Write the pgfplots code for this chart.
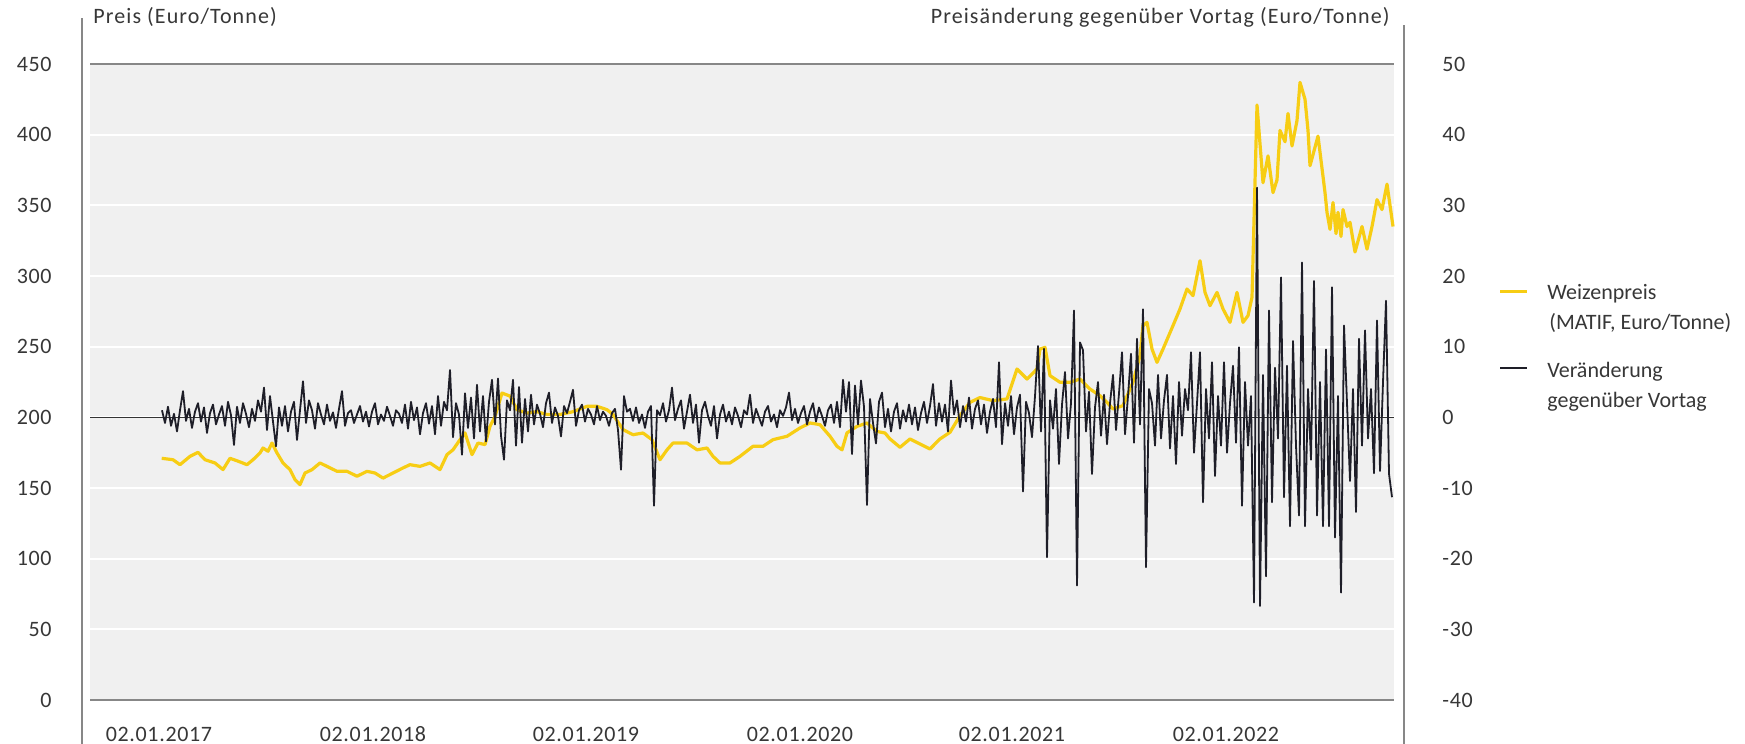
\documentclass[border=0pt]{standalone}
\usepackage{pgfplots}
\usepackage{pgfplotstable}
\pgfplotsset{compat=1.18}
\usepackage{fontspec}
\setmainfont{Carlito}
\newfontfamily\tickfont[LetterSpace=3]{Carlito}
\newfontfamily\titlefont[LetterSpace=5]{Carlito}
\definecolor{bgg}{RGB}{240,240,240}
\definecolor{ylw}{RGB}{247,205,20}
\definecolor{blk}{RGB}{30,30,40}
\definecolor{axg}{RGB}{135,135,135}
\definecolor{txt}{RGB}{55,55,55}

\pgfplotstableread{
x y
161.7 171
173 170
180 166.5
190 172.4
198 175.2
205 170
215 167.7
223 163
230 171
238 169
247 166.5
253 170
260 174.8
263 178.3
268 176
272 181.8
277 174.8
283 167.7
290 163
295 155.9
300 152.4
305 160.6
312 163
320 167.7
327 165.3
337 161.8
347 161.8
357 158.3
367 161.8
375 160.6
383 157
393 160.6
403 164.2
410 166.5
420 165.3
430 167.7
440 163
447 173.6
453 177
460 184.2
465 189
472 173.6
478 181.8
485 180.7
490 193.6
495 200.7
502 217.2
510 215
517 205.4
527 203
537 204
547 202
560 202
573 204
587 207.8
597 207.8
607 205.4
613 202
623 191.3
633 187.7
643 188.9
652 184.2
660 170
667 177
673 181.8
687 181.8
697 177
707 178.3
713 172.4
720 167.7
730 167.7
740 172.4
753 179.5
763 179.5
773 184.2
787 186.6
800 192.5
810 196
820 194.8
830 186.6
837 179.5
842 177
847 189
857 193.6
867 196
877 190
885 188.9
890 184.7
900 178.8
910 184.7
920 181.1
930 177.6
940 184.7
950 189.4
960 201.2
970 210.6
980 214
993 211.8
1007 213
1017 234.2
1027 227.1
1037 234.2
1040 248.3
1045 249.5
1050 229.5
1060 224.8
1070 224.8
1080 227.1
1090 220
1100 215.3
1107 210.6
1113 205.9
1123 208.3
1133 224.8
1140 243.6
1143 264.9
1147 267.2
1152 248.3
1157 238.9
1163 248.3
1173 264.9
1180 276.7
1187 290.8
1193 286.1
1200 310.8
1205 288.4
1210 279
1217 288.4
1223 276.7
1230 267.2
1237 288.4
1243 267.2
1248 271.9
1252 285
1257 421
1263 366
1268 385
1273 359
1277 368
1280 403
1285 395
1288 415
1292 392
1297 410
1300 437
1305 425
1308 403
1310 378
1318 399
1325 359
1327 345
1330 333
1333 352
1336 330
1338 345
1341 328
1343 347
1347 335
1350 338
1355 317
1362 335
1367 319
1372 335
1377 354
1382 347
1387 365
1390 350
1393 335
}\yellowdata

\pgfplotstableread[row sep=\\]{
y\\
1.0\\ -0.8\\ 1.5\\ -1.2\\ 0.5\\ -2.0\\ 1.0\\ 3.7\\ -0.5\\ 1.2\\
-1.5\\ 0.8\\ 2.0\\ -0.6\\ 1.4\\ -2.2\\ 0.6\\ 1.8\\ -1.0\\ 0.4\\
1.6\\ -1.2\\ 2.2\\ 0.3\\ -3.9\\ 1.5\\ -0.8\\ 2.0\\ 0.5\\ -1.4\\
1.2\\ -0.5\\ 2.4\\ 0.8\\ 4.2\\ -1.8\\ 3.0\\ -0.6\\ -4.1\\ 1.4\\
-1.2\\ 1.6\\ -2.0\\ 0.8\\ 2.2\\ -3.2\\ 1.0\\ 5.1\\ -0.8\\ 2.4\\
1.0\\ -1.6\\ 2.0\\ 0.4\\ -1.0\\ 1.8\\ -0.5\\ 0.7\\ -1.5\\ 1.2\\
3.7\\ -1.2\\ 0.6\\ 1.0\\ -0.8\\ 0.4\\ 1.6\\ -0.6\\ 0.8\\ -1.3\\
0.8\\ 2.0\\ -1.0\\ 0.4\\ -0.5\\ 1.5\\ 0.2\\ -1.2\\ 1.0\\ 0.5\\
-0.8\\ 1.8\\ -1.6\\ 2.2\\ -0.4\\ 1.4\\ -2.4\\ 0.6\\ 2.0\\ -0.9\\
1.6\\ -2.4\\ 3.0\\ -1.2\\ 2.2\\ 1.0\\ 6.7\\ -2.8\\ 2.0\\ 0.4\\
-5.3\\ 3.4\\ -1.5\\ 2.8\\ -3.0\\ 4.6\\ -2.0\\ 3.0\\ -3.4\\ 2.2\\
5.3\\ -1.0\\ 5.5\\ -2.6\\ -6.0\\ 2.4\\ 1.0\\ 5.3\\ -4.0\\ 4.3\\
-3.6\\ 2.6\\ -2.0\\ 3.2\\ -1.0\\ 1.8\\ 0.5\\ -1.4\\ 2.0\\ 3.5\\
-0.8\\ 1.4\\ 0.2\\ -2.7\\ 1.6\\ 0.6\\ 2.2\\ 3.9\\ -1.2\\ 1.0\\
1.8\\ -0.6\\ 1.2\\ 0.4\\ -1.0\\ 1.6\\ -0.4\\ 0.8\\ 0.2\\ -1.2\\
0.6\\ 1.2\\ -1.8\\ -7.4\\ 3.0\\ 0.8\\ 1.2\\ -0.5\\ 1.4\\ -0.8\\
0.4\\ -1.5\\ 0.8\\ 1.6\\ -12.5\\ 1.0\\ 0.3\\ 2.0\\ -0.6\\ 1.0\\
4.2\\ -0.4\\ 1.2\\ 2.4\\ -1.6\\ 0.8\\ 3.2\\ -0.8\\ 1.8\\ -3.6\\
1.0\\ 2.2\\ 0.2\\ -1.2\\ 1.6\\ -3.0\\ 0.4\\ 1.8\\ -0.6\\ 0.8\\
-1.0\\ 1.4\\ 0.2\\ -1.4\\ 1.0\\ 0.4\\ 3.2\\ -0.8\\ 1.2\\ 0.0\\
-1.2\\ 0.8\\ 1.6\\ -0.6\\ 0.4\\ -1.4\\ 1.0\\ 0.2\\ 1.4\\ 3.5\\
-0.4\\ 1.2\\ -0.8\\ 0.6\\ 1.6\\ -1.0\\ 0.8\\ 2.0\\ -0.6\\ 1.4\\
0.2\\ -1.2\\ 1.0\\ 1.8\\ -0.8\\ 2.2\\ -1.4\\ 5.3\\ 0.8\\ 5.0\\
-5.2\\ 4.5\\ -1.0\\ 5.2\\ 1.5\\ -12.4\\ 2.6\\ -0.8\\ -3.7\\ 2.2\\
3.5\\ -1.4\\ 1.2\\ -2.0\\ 0.8\\ 2.0\\ -1.6\\ 1.0\\ -0.6\\ 1.8\\
-1.0\\ 1.4\\ -1.8\\ 0.6\\ 2.2\\ -0.8\\ 1.6\\ 4.7\\ -1.2\\ 2.0\\
-0.6\\ 1.8\\ -2.0\\ 5.2\\ 0.4\\ 2.4\\ -1.4\\ 1.6\\ -0.6\\ 2.8\\
-1.6\\ 1.2\\ 2.4\\ -1.0\\ 1.8\\ -2.2\\ 0.8\\ 2.6\\ -1.4\\ 7.8\\
-3.8\\ 2.0\\ -1.2\\ 3.0\\ -2.4\\ 1.4\\ 3.2\\ -10.5\\ 2.2\\ 0.6\\
-2.8\\ 3.0\\ 10.1\\ -2.0\\ 9.7\\ -19.8\\ 2.4\\ -1.6\\ 4.0\\ -6.6\\
1.8\\ 6.4\\ -3.0\\ 2.0\\ 15.1\\ -23.8\\ 10.6\\ 9.5\\ -2.0\\ 3.6\\
-8.0\\ 1.4\\ 5.0\\ -2.6\\ 3.2\\ -3.8\\ 2.0\\ 6.0\\ -1.8\\ 3.4\\
9.2\\ -2.4\\ 3.0\\ 9.0\\ -3.6\\ 11.1\\ -1.0\\ 15.3\\ -21.2\\ 4.0\\
2.0\\ -4.0\\ 6.0\\ -3.0\\ 2.4\\ 6.0\\ -4.4\\ 3.0\\ -6.6\\ 5.0\\
-2.6\\ 4.0\\ 1.0\\ 9.2\\ -5.0\\ 2.0\\ 9.2\\ -12.0\\ 4.0\\ -3.0\\
7.8\\ -8.3\\ 3.0\\ -4.0\\ 7.8\\ -5.0\\ 2.0\\ 7.3\\ -3.6\\ 9.9\\
-12.5\\ 5.0\\ -4.0\\ 3.0\\ -26.2\\ 32.5\\ -26.7\\ 6.0\\ -22.5\\ 15.1\\
-12.0\\ 7.0\\ -3.0\\ 19.8\\ -11.3\\ 7.3\\ -15.4\\ 10.8\\ -4.0\\ -13.9\\
21.9\\ -15.4\\ 4.0\\ -6.0\\ 19.3\\ -13.9\\ 5.0\\ -15.4\\ 9.6\\ -15.4\\
18.4\\ -17.0\\ 3.0\\ -24.8\\ 13.0\\ 2.0\\ -9.0\\ 4.0\\ -13.4\\ 11.1\\
-4.0\\ 12.3\\ -3.0\\ 4.0\\ -7.9\\ 13.7\\ -7.6\\ 5.0\\ 16.5\\ -8.0\\
-11.3\\
}\blackdata

\begin{document}
\begin{tikzpicture}[font=\fontsize{11}{13}\selectfont]
\useasboundingbox (-45pt,-22pt) rectangle (827.5pt,350pt);
\begin{axis}[
  at={(0,0)}, anchor=south west,
  scale only axis, width=652pt, height=318pt,
  xmin=90, xmax=1394, ymin=0, ymax=450,
  axis line style={draw=none},
  major tick length=0pt,
  axis background/.style={fill=bgg},
  ytick={0,50,100,150,200,250,300,350,400,450},
  yticklabels={0,50,100,150,200,250,300,350,400,450},
  ymajorgrids, grid style={white, line width=0.9pt},
  xtick={159,373,586,800,1012,1226},
  xticklabels={02.01.2017,02.01.2018,02.01.2019,02.01.2020,02.01.2021,02.01.2022},
  tick label style={font=\tickfont\fontsize{11}{13}\selectfont, text=txt, inner sep=0pt},
  yticklabel style={anchor=east, xshift=-19pt},
  xticklabel style={anchor=base, yshift=-20.5pt},
  clip=false,
]
\draw[axg, line width=0.8pt] (axis cs:90,450) -- (axis cs:1394,450);
\draw[axg, line width=0.8pt] (axis cs:90,0) -- (axis cs:1394,0);
\draw[black!80, line width=0.55pt] (axis cs:90,200) -- (axis cs:1394,200);
\addplot[ylw, line width=1.6pt, line join=round] table[x=x, y=y] {\yellowdata};
\end{axis}
\begin{axis}[
  at={(0,0)}, anchor=south west,
  scale only axis, width=652pt, height=318pt,
  xmin=90, xmax=1394, ymin=-40, ymax=50,
  axis line style={draw=none},
  major tick length=0pt,
  xtick=\empty,
  ytick={-40,-30,-20,-10,0,10,20,30,40,50},
  yticklabels={-40,-30,-20,-10,0,10,20,30,40,50},
  yticklabel pos=right,
  tick label style={font=\tickfont\fontsize{11}{13}\selectfont, text=txt, inner sep=0pt},
  yticklabel style={anchor=west, xshift=24pt},
  clip=false,
]
\addplot[blk, line width=0.9pt, line join=round] table[x expr=162+3*\coordindex, y=y] {\blackdata};
\end{axis}
\draw[axg, line width=0.6pt] (-4pt,-22pt) -- (-4pt,341pt);
\draw[axg, line width=0.6pt] (657pt,-22pt) -- (657pt,337.5pt);
\node[anchor=base west, inner sep=0pt, text=txt, font=\titlefont\fontsize{11}{13}\selectfont] at (1.5pt,338pt) {Preis (Euro/Tonne)};
\node[anchor=base east, inner sep=0pt, text=txt, font=\titlefont\fontsize{11}{13}\selectfont] at (650pt,338pt) {Preisänderung gegenüber Vortag (Euro/Tonne)};
\draw[ylw, line width=1.1pt] (705pt,204.2pt) -- (718.5pt,204.2pt);
\node[anchor=base west, inner sep=0pt, text=txt] at (728.5pt,200pt) {Weizenpreis};
\node[anchor=base west, inner sep=0pt, text=txt] at (729.5pt,185pt) {(MATIF, Euro/Tonne)};
\draw[blk, line width=1.1pt] (705pt,166pt) -- (718.5pt,166pt);
\node[anchor=base west, inner sep=0pt, text=txt] at (728.5pt,161pt) {Veränderung};
\node[anchor=base west, inner sep=0pt, text=txt] at (728.5pt,146pt) {gegenüber Vortag};
\end{tikzpicture}
\end{document}
